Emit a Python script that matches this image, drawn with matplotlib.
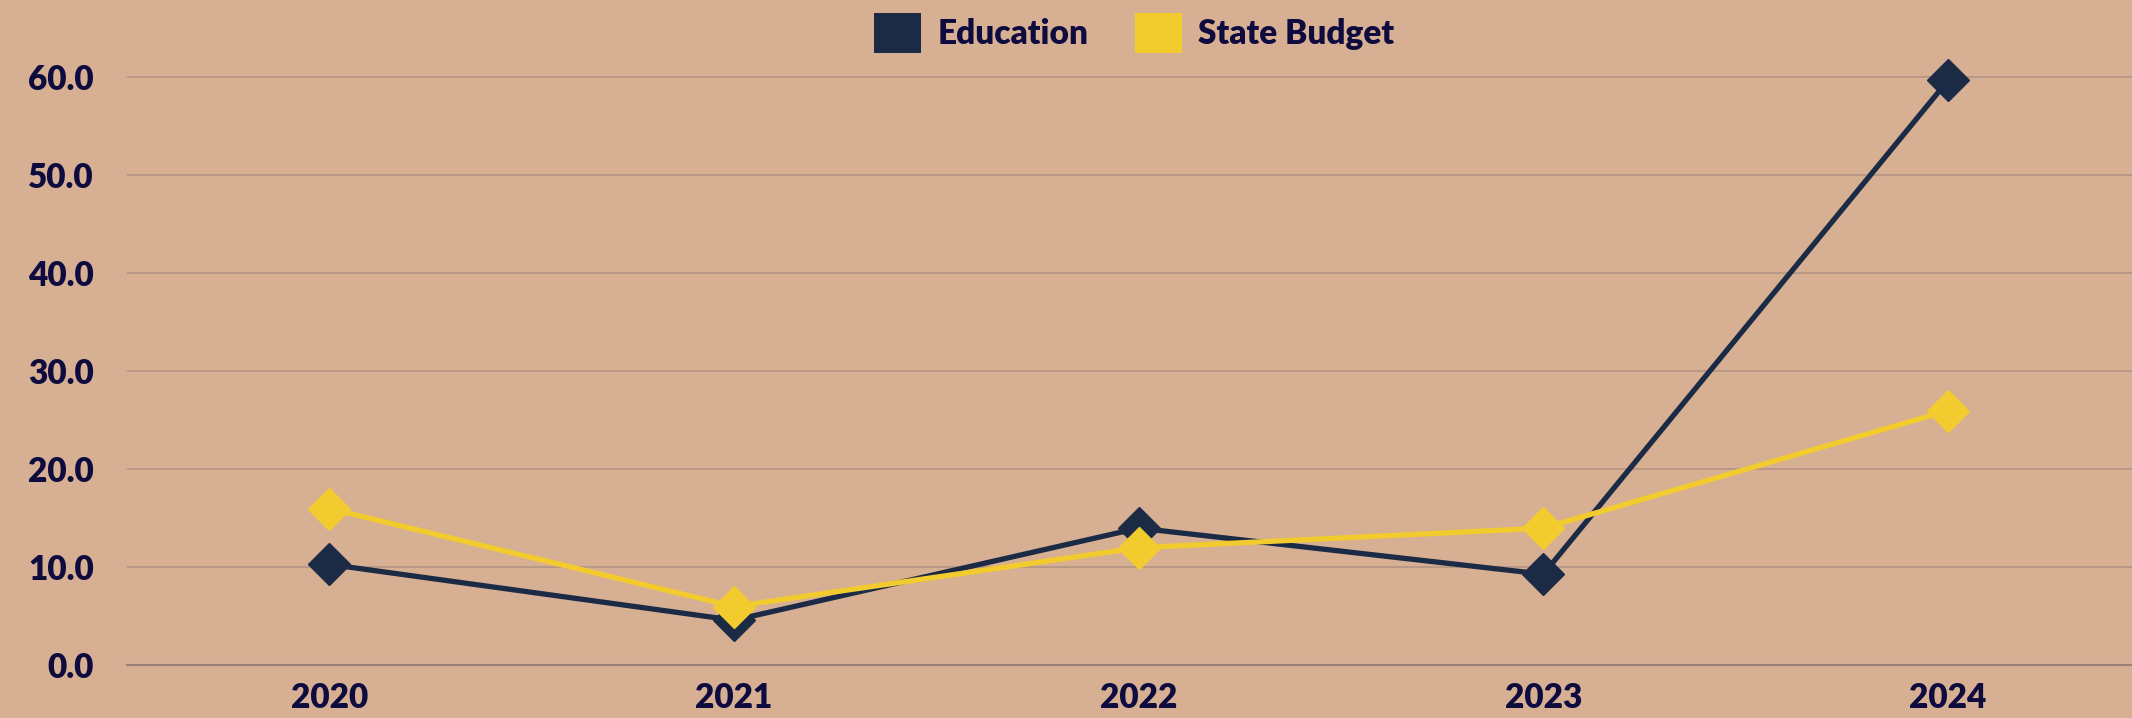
import numpy as np
import matplotlib.pyplot as plt
from matplotlib.patches import Patch

years = ["2020", "2021", "2022", "2023", "2024"]
education = [10.3, 4.6, 14.0, 9.3, 59.7]
state_budget = [16.0, 6.0, 12.0, 14.0, 26.0]
y_ticks = [0, 10, 20, 30, 40, 50, 60]

BG = "#D7AF93"
NAVY = "#1B2B45"
YELLOW = "#F2CB2E"
TEXT = "#0E0B3F"
GRID = "#B39483"

plt.rcParams['font.family'] = ['Lato', 'DejaVu Sans']

fig = plt.figure(figsize=(21.32, 7.18), dpi=100, facecolor=BG)
ax = fig.add_axes([0.0596, 0.0734, 0.949, 0.846], facecolor=BG)

x = np.arange(len(years))
ax.plot(x, education, color=NAVY, lw=3.8, marker='D', ms=21, zorder=3)
ax.plot(x, state_budget, color=YELLOW, lw=3.8, marker='D', ms=21, zorder=4)

ax.set_xlim(-0.5, len(years) - 0.5)
ax.set_ylim(0, 62)
ax.set_xticks(x)
ax.set_xticklabels(years)
ax.set_yticks(y_ticks)
ax.set_yticklabels([f"{v:.1f}" for v in y_ticks])
ax.tick_params(axis='both', length=0, labelsize=24, labelcolor=TEXT)
ax.tick_params(axis='x', pad=12)
ax.tick_params(axis='y', pad=24)
for lab in ax.get_xticklabels() + ax.get_yticklabels():
    lab.set_fontweight('heavy')

ax.grid(axis='y', color=GRID, lw=1.2)
ax.set_axisbelow(True)
for s in ['top', 'right', 'left']:
    ax.spines[s].set_visible(False)
ax.spines['bottom'].set_color("#9C7F72")
ax.spines['bottom'].set_linewidth(1.5)

handles = [Patch(facecolor=NAVY, label="Education"),
           Patch(facecolor=YELLOW, label="State Budget")]
leg = fig.legend(handles=handles, loc='center', bbox_to_anchor=(0.532, 0.954),
                 ncol=2, frameon=False, handlelength=1.4, handleheight=1.45,
                 handletextpad=0.5, columnspacing=1.4,
                 prop={'size': 24, 'weight': 'heavy'})
for t in leg.get_texts():
    t.set_color(TEXT)

fig.savefig("out.png", dpi=100, facecolor=BG)
